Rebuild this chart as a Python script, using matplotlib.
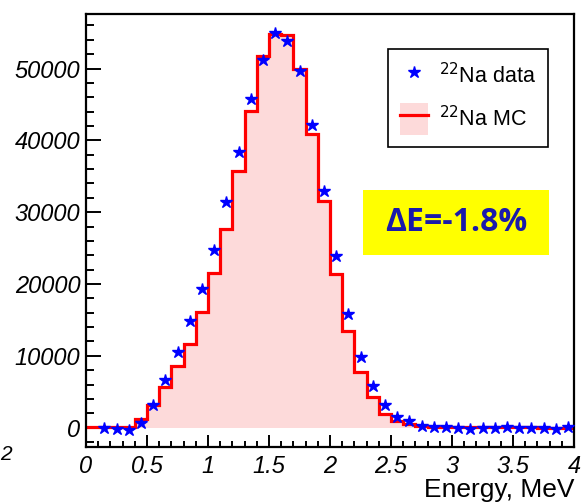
import numpy as np
import matplotlib
matplotlib.use("Agg")
import matplotlib.pyplot as plt
from matplotlib.lines import Line2D
from matplotlib.patches import Patch
from matplotlib.ticker import MultipleLocator, FixedLocator
from matplotlib.legend_handler import HandlerTuple

# MC histogram (bin edges in MeV, counts per bin)
mc_edges = np.round(np.arange(0.0, 4.0001, 0.1), 2)
mc_counts = [50, 50, 80, 150, 1250, 3120, 5710, 8640, 11700, 16100,
             21500, 27700, 35700, 44150, 51700, 54800, 54700, 49900, 40900, 31570,
             21400, 13430, 7710, 4230, 1860, 980, 510, 190, 80, 60,
             50, 40, 30, 30, 20, 20, 20, 10, 10, 10]

# data points
data_x = [0.15, 0.25, 0.35, 0.45, 0.55, 0.65, 0.75, 0.85, 0.95, 1.05,
          1.15, 1.25, 1.35, 1.45, 1.55, 1.65, 1.75, 1.85, 1.95, 2.05,
          2.15, 2.25, 2.35, 2.45, 2.55, 2.65, 2.75, 2.85, 2.95, 3.05,
          3.15, 3.25, 3.35, 3.45, 3.55, 3.65, 3.75, 3.85, 3.95]
data_y = [0, -200, -400, 700, 3150, 6600, 10500, 14800, 19300, 24800,
          31470, 38440, 45780, 51200, 54930, 53900, 49680, 42160, 33000, 23900,
          15840, 9800, 5850, 3160, 1530, 980, 280, 30, 120, 0,
          -200, 0, 0, 100, 0, 0, 0, -200, 100]

xticks = [0, 0.5, 1, 1.5, 2, 2.5, 3, 3.5, 4]
xticklabels = ["0", "0.5", "1", "1.5", "2", "2.5", "3", "3.5", "4"]
yticks = [0, 10000, 20000, 30000, 40000, 50000]
yticklabels = ["0", "10000", "20000", "30000", "40000", "50000"]

W, H = 581, 503
fig = plt.figure(figsize=(W / 100, H / 100), dpi=100)
ax = fig.add_axes([86 / W, 1 - 447 / H, (574 - 86) / W, (447 - 14) / H])

pink = "#fddada"
ax.stairs(mc_counts, mc_edges, fill=True, color=pink, zorder=1)
ax.stairs(mc_counts, mc_edges, color="#ff0000", linewidth=2.3, zorder=2)
ax.plot(data_x, data_y, linestyle="none", marker="*", color="#0000ff",
        markersize=9, zorder=3)

ax.set_xlim(0, 4)
ax.set_ylim(-2700, 57600)

ax.xaxis.set_major_locator(FixedLocator(xticks))
ax.set_xticklabels(xticklabels)
ax.xaxis.set_minor_locator(MultipleLocator(0.1))
ax.yaxis.set_major_locator(FixedLocator(yticks))
ax.set_yticklabels(yticklabels)
ax.yaxis.set_minor_locator(MultipleLocator(2000))

ax.tick_params(axis="both", which="both", direction="in", top=False, right=False,
               width=1.4, colors="black")
ax.tick_params(axis="y", which="major", length=11, pad=4, labelsize=17)
ax.tick_params(axis="y", which="minor", length=5.5)
ax.tick_params(axis="x", which="major", length=9, pad=6, labelsize=17)
ax.tick_params(axis="x", which="minor", length=4.5)
for lab in ax.get_xticklabels() + ax.get_yticklabels():
    lab.set_fontstyle("italic")
    lab.set_fontfamily("Liberation Sans")

for s in ax.spines.values():
    s.set_linewidth(1.6)
    s.set_color("black")

fig.text(574 / W, 1 - 490 / H, "Energy, MeV", ha="right", va="center",
         fontsize=19, family="Liberation Sans")

fig.text(0, 1 - 455 / H, "2", ha="left", va="center", fontsize=15,
         fontstyle="italic", family="Liberation Sans")

# legend
h_data = Line2D([], [], linestyle="none", marker="*", color="#0000ff", markersize=9)
h_mc = (Patch(facecolor=pink, edgecolor="none"),
        Line2D([], [], color="#ff0000", linewidth=2.3))
leg = ax.legend([h_data, h_mc], [r"$^{22}$Na data", r"$^{22}$Na MC"],
                loc="upper left", bbox_to_anchor=(388 / W, 1 - 49 / H),
                bbox_transform=fig.transFigure, borderaxespad=0,
                handler_map={tuple: HandlerTuple(ndivide=1)},
                prop={"family": "Liberation Sans", "size": 15.5},
                frameon=True, fancybox=False, edgecolor="black", framealpha=1,
                handlelength=1.3, handleheight=1.9, labelspacing=0.5,
                borderpad=0.55, handletextpad=0.5)
leg.get_frame().set_linewidth(1.2)

# yellow box
box_x0, box_x1 = 363 / W, 549 / W
box_y0, box_y1 = 1 - 255 / H, 1 - 190 / H
fig.patches.append(plt.Rectangle((box_x0, box_y0), box_x1 - box_x0, box_y1 - box_y0,
                                 transform=fig.transFigure, facecolor="#ffff00",
                                 edgecolor="none", zorder=5))
fig.text((box_x0 + box_x1) / 2, (box_y0 + box_y1) / 2, "ΔE=-1.8%",
         ha="center", va="center", fontsize=23, fontweight="bold",
         color="#1a1aaa", family=["Open Sans", "DejaVu Sans"], zorder=6)

fig.savefig("out.png", dpi=100)
